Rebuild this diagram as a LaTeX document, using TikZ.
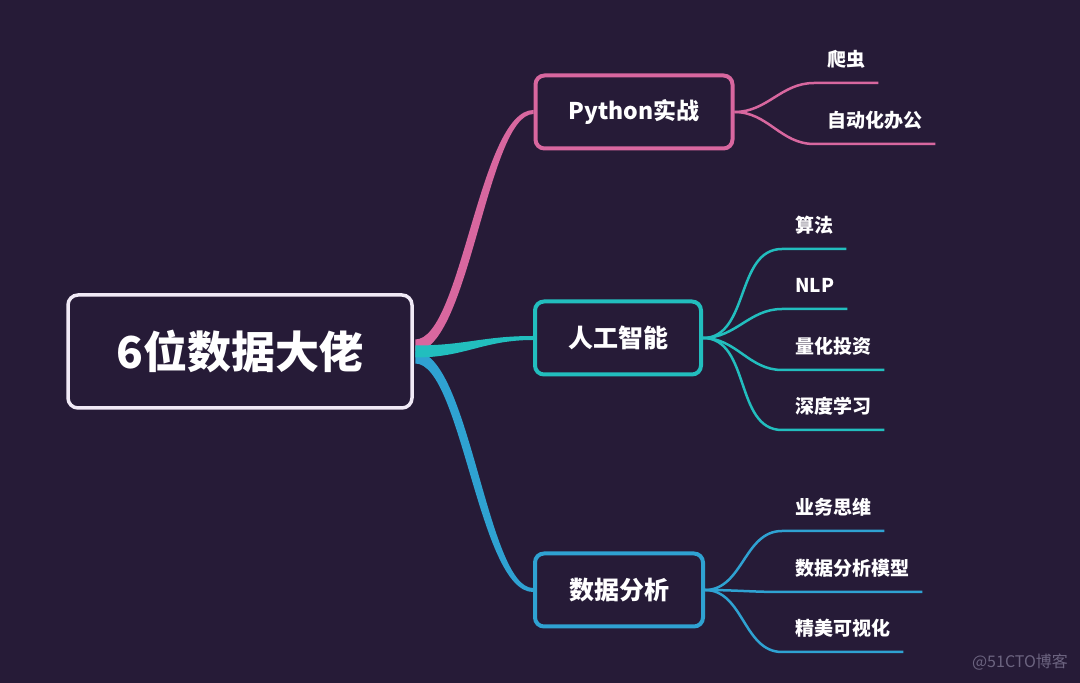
\documentclass[tikz,border=0pt]{standalone}
\usepackage{fontspec}
\setmainfont{Noto Sans CJK SC}
\usetikzlibrary{calc}

\definecolor{bgPurple}{HTML}{261B37}
\definecolor{mapPink}{HTML}{D8679F}
\definecolor{mapTeal}{HTML}{22BEBE}
\definecolor{mapBlue}{HTML}{2FA2D2}
\definecolor{rootWhite}{HTML}{F1EAF6}
\definecolor{markGray}{HTML}{6C6480}

\providecommand*{\branchFill}{}
\renewcommand*{\branchFill}[4]{%
  \fill [#1] ($(#2)+(0,6)$) .. controls +({50-(#4)},0) and +({-50-(#4)},0) .. ($(#3)+(0,2)$)
    -- ($(#3)+(0,-2)$) .. controls +({-50+(#4)},0) and +({50+(#4)},0) .. ($(#2)+(0,-6)$) -- cycle;}

\tikzset{
  rootbox/.style={draw=rootWhite, line width=3.5pt, rounded corners=10pt, fill=bgPurple,
    text=white, font=\fontsize{44}{50}\selectfont\bfseries,
    minimum width=344pt, minimum height=113pt},
  topicbox/.style={line width=4pt, rounded corners=9pt, fill=bgPurple, text=white,
    font=\fontsize{25}{30}\selectfont\bfseries, minimum height=73pt},
  leaf/.style={anchor=south west, text=white, font=\fontsize{19}{23}\selectfont\bfseries,
    inner xsep=13pt, inner ysep=12pt, text height=15pt, text depth=4pt},
  leafline/.style={line width=2.5pt},
}

\begin{document}
\begin{tikzpicture}[x=1pt,y=1pt]
  \fill [bgPurple] (0,0) rectangle (1080,683);
  \useasboundingbox (0,0) rectangle (1080,683);

%root
  \node (root) [rootbox] at (240,331.5) {6位数据大佬};
%topics
  \node (py) [topicbox, draw=mapPink, minimum width=197pt, font=\fontsize{23}{28}\selectfont\bfseries] at (634,571) {Python实战};
  \node (ai) [topicbox, draw=mapTeal, minimum width=166pt] at (618,345) {人工智能};
  \node (da) [topicbox, draw=mapBlue, minimum width=168pt] at (619,93) {数据分析};

%thick branches
  \coordinate (pyStart) at ($(root.east)+(1.5,6)$);
  \coordinate (aiStart) at ($(root.east)+(1.5,0)$);
  \coordinate (daStart) at ($(root.east)+(1.5,-6)$);
  \branchFill{mapPink}{pyStart}{py.west}{4}
  \branchFill{mapBlue}{daStart}{da.west}{-4}
  \branchFill{mapTeal}{aiStart}{ai.west}{0}

%leaves
  \node (crawl) [leaf] at (814,600) {爬虫};
  \node (office) [leaf] at (814,539) {自动化办公};
  \node (algo) [leaf] at (782,434) {算法};
  \node (nlp) [leaf] at (782,374) {NLP};
  \node (quant) [leaf] at (782,313) {量化投资};
  \node (deep) [leaf] at (782,253) {深度学习};
  \node (biz) [leaf] at (782,152) {业务思维};
  \node (model) [leaf] at (782,91) {数据分析模型};
  \node (viz) [leaf] at (782,31) {精美可视化};

  \foreach \leafName in {crawl,office}
    \draw [leafline,mapPink] (py.east) to [out=0,in=180] (\leafName.south west) -- (\leafName.south east);
  \foreach \leafName in {algo,nlp,quant,deep}
    \draw [leafline,mapTeal] (ai.east) to [out=0,in=180] (\leafName.south west) -- (\leafName.south east);
  \foreach \leafName in {biz,model,viz}
    \draw [leafline,mapBlue] (da.east) to [out=0,in=180] (\leafName.south west) -- (\leafName.south east);

  \node (mark) [text=markGray, font=\fontsize{16}{19}\selectfont] at (1020,21) {@51CTO博客};
\end{tikzpicture}
\end{document}
